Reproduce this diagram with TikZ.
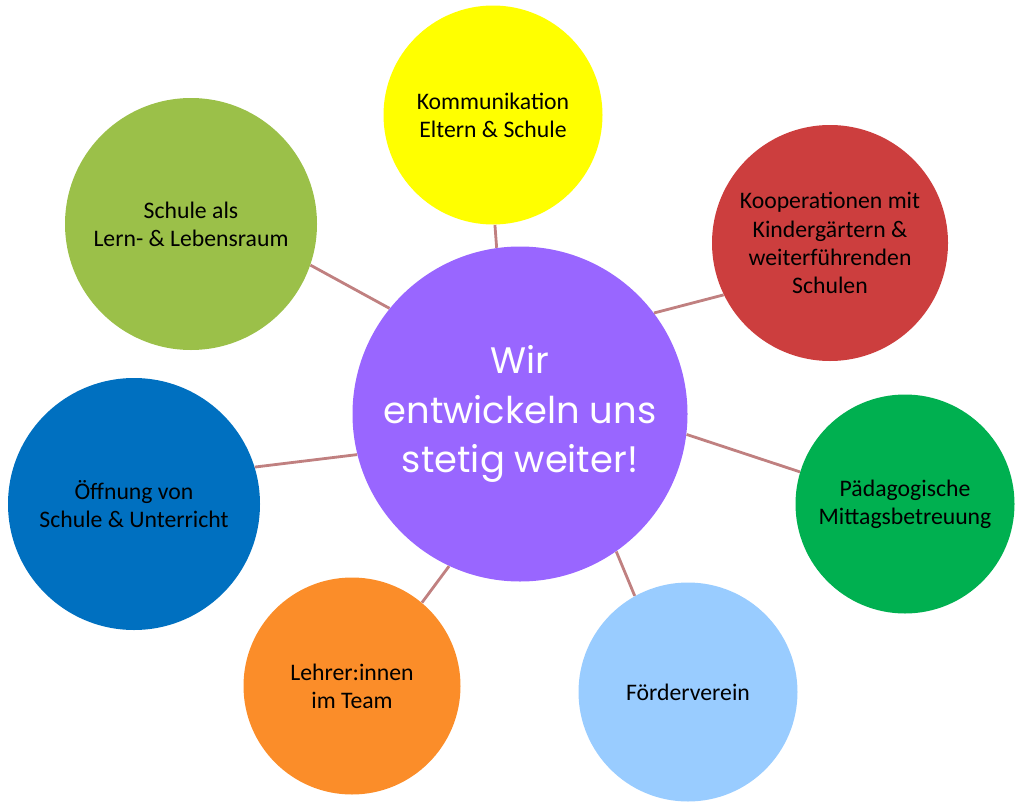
\documentclass[tikz,border=0pt]{standalone}
\usepackage{fontspec}
\setmainfont{Carlito}
\newfontfamily\centerfont{Poppins}
\definecolor{cYellow}{HTML}{FFFF00}
\definecolor{cRed}{HTML}{CC3E3E}
\definecolor{cGreen}{HTML}{00B050}
\definecolor{cLightBlue}{HTML}{99CCFF}
\definecolor{cOrange}{HTML}{FB8D29}
\definecolor{cBlue}{HTML}{0070C0}
\definecolor{cOlive}{HTML}{9BC049}
\definecolor{cPurple}{HTML}{9966FF}
\definecolor{cLine}{HTML}{C08080}
\tikzset{
  bubble/.style={circle, inner sep=0pt, align=center, text=black, font=\fontsize{13.5}{16}\selectfont},
  hub/.style={circle, inner sep=0pt, align=center, fill=cPurple, text=white, font=\centerfont\fontsize{21}{28}\selectfont},
  link/.style={draw=cLine, line width=1.6pt}
}
\begin{document}
\begin{tikzpicture}[x=0.02cm, y=-0.02cm]
\useasboundingbox (0,0) rectangle (1024,808);
% circles
\node[bubble, fill=cYellow, minimum size=219*0.02cm] (yel) at (493,115) {Kommunikation\\Eltern \& Schule};
\node[bubble, fill=cRed, minimum size=236*0.02cm] (red) at (830,243) {Kooperationen mit\\Kindergärtern \&\\weiterführenden\\Schulen};
\node[bubble, fill=cGreen, minimum size=219*0.02cm] (gre) at (905,504) {Pädagogische\\Mittagsbetreuung};
\node[bubble, fill=cLightBlue, minimum size=219*0.02cm] (lbl) at (688,692) {Förderverein};
\node[bubble, fill=cOrange, minimum size=217*0.02cm] (ora) at (352,686) {Lehrer:innen\\im Team};
\node[bubble, fill=cBlue, minimum size=252*0.02cm] (blu) at (134,504) {Öffnung von\\Schule \& Unterricht};
\node[bubble, fill=cOlive, minimum size=252*0.02cm] (oli) at (191,224) {Schule als\\Lern- \& Lebensraum};
\node[hub, minimum size=335*0.02cm] (hub) at (520,414) {Wir\\entwickeln uns\\stetig weiter!};
% connectors
\draw[link] (hub.98.6) -- (yel.-89);
\draw[link] (hub.37.1) -- (red.-154.7);
\draw[link] (hub.-7.2) -- (gre.163);
\draw[link] (hub.-55.2) -- (lbl.119.6);
\draw[link] (hub.-115.9) -- (ora.50.6);
\draw[link] (hub.-166.2) -- (blu.17);
\draw[link] (hub.141.1) -- (oli.-19);
\end{tikzpicture}
\end{document}
